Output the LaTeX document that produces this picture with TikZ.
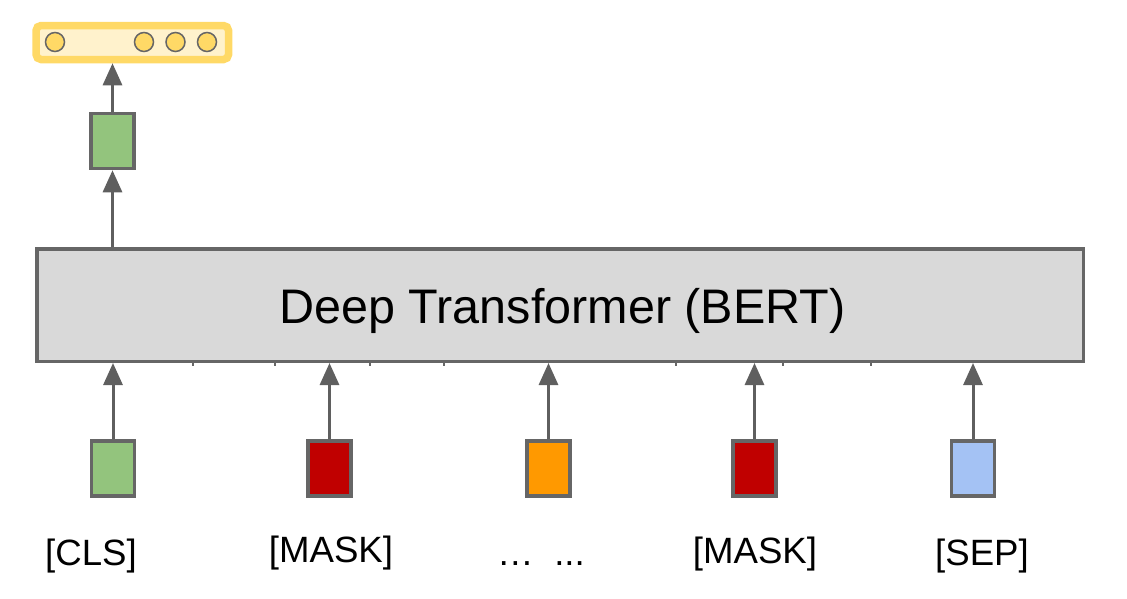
\documentclass[tikz,border=0pt]{standalone}
\usepackage{fontspec}
\setmainfont{Liberation Sans}
\usetikzlibrary{arrows.meta}
\definecolor{edge}{HTML}{666666}
\definecolor{arr}{HTML}{5F5F5F}
\definecolor{greenf}{HTML}{93C47D}
\definecolor{redf}{HTML}{C00000}
\definecolor{orangef}{HTML}{FF9900}
\definecolor{bluef}{HTML}{A4C2F4}
\definecolor{bertf}{HTML}{D9D9D9}
\definecolor{barf}{HTML}{FFF2CC}
\definecolor{bard}{HTML}{FFD966}
\definecolor{dotf}{HTML}{FFD966}
\begin{document}
\begin{tikzpicture}[x=1pt,y=-1pt,
  vec/.style={draw=edge,line width=3.5pt,minimum width=43pt,minimum height=55pt,inner sep=0pt},
  link/.style={draw=arr,line width=3pt,-{Triangle[length=22pt,width=19pt]}},
  tok/.style={font=\fontsize{36.6pt}{44pt}\selectfont,anchor=base,inner sep=0pt},
  unit/.style={circle,draw=edge,line width=1.5pt,fill=dotf,minimum size=19pt,inner sep=0pt},
  tickmark/.style={draw=edge,line width=1.5pt}]
\useasboundingbox (0,0) rectangle (1127,598);

% output vector
\node[draw=bard,fill=barf,line width=7.5pt,rounded corners=5pt,
      minimum width=192.5pt,minimum height=34pt,inner sep=0pt] (out) at (132.3,42.5) {};
\node[unit] (u1) at (55,42) {};
\node[unit] (u2) at (144,42) {};
\node[unit] (u3) at (175.5,42) {};
\node[unit] (u4) at (207,42) {};

% hidden CLS output
\node[vec,fill=greenf] (h) at (112.5,141) {};

% BERT block
\node[draw=edge,fill=bertf,line width=3.5pt,minimum width=1046.5pt,
      minimum height=112.5pt,inner sep=0pt] (bert) at (560,305) {};
\node[font=\fontsize{48.5pt}{58pt}\selectfont,anchor=base,inner sep=0pt]
      (bertlabel) at (562.5,323) {Deep Transformer (BERT)};

% small ticks under the block
\foreach \tx in {193,275,370,444,676,783,871}
  \draw[tickmark] (\tx,363) -- (\tx,366);

% input embeddings
\node[vec,fill=greenf]  (e1) at (113,468.5) {};
\node[vec,fill=redf]    (e2) at (329.5,468.5) {};
\node[vec,fill=orangef] (e3) at (548.5,468.5) {};
\node[vec,fill=redf]    (e4) at (754.5,468.5) {};
\node[vec,fill=bluef]   (e5) at (973,468.5) {};

% connectors
\draw[link] (h.north) -- (h.north |- out.south);
\draw[link] (bert.north -| h.south) -- (h.south);
\foreach \i in {1,...,5}
  \draw[link] (e\i.north) -- (e\i.north |- bert.south);

% token labels
\node[tok] (l1) at (91,565) {[CLS]};
\node[tok] (l2) at (331,562) {[MASK]};
\node[tok] (l3) at (541,565) {…\hspace{20.5pt}...};
\node[tok] (l4) at (755,563) {[MASK]};
\node[tok] (l5) at (982,565) {[SEP]};
\end{tikzpicture}
\end{document}
